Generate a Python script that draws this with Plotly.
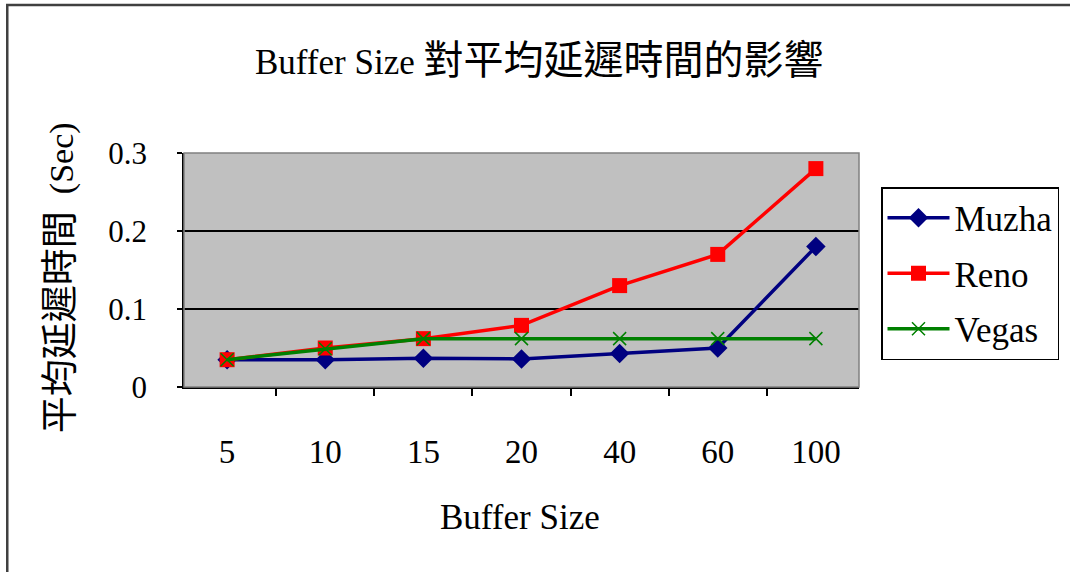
import plotly.graph_objects as go

# Buffer sizes (categories on the x axis)
buffer_sizes = ["5", "10", "15", "20", "40", "60", "100"]

# Average delay in seconds for each TCP variant
muzha = [0.035, 0.035, 0.037, 0.036, 0.043, 0.050, 0.180]
reno = [0.035, 0.050, 0.062, 0.079, 0.130, 0.170, 0.280]
vegas = [0.035, 0.049, 0.062, 0.062, 0.062, 0.062, 0.062]

y_ticks = [0, 0.1, 0.2, 0.3]
y_tick_text = ["0", "0.1", "0.2", "0.3"]

SERIF = "Liberation Serif, Times New Roman, serif"

fig = go.Figure()

fig.add_trace(go.Scatter(
    x=buffer_sizes, y=muzha, name="Muzha", mode="lines+markers",
    line=dict(color="#000080", width=3.5),
    marker=dict(symbol="diamond", size=15, color="#000080"),
    legendgroup="muzha",
))
fig.add_trace(go.Scatter(
    x=buffer_sizes, y=reno, name="Reno", mode="lines+markers",
    line=dict(color="#ff0000", width=3.5),
    marker=dict(symbol="square", size=15, color="#ff0000"),
    legendgroup="reno",
))
fig.add_trace(go.Scatter(
    x=buffer_sizes, y=vegas, name="Vegas", mode="lines+markers",
    line=dict(color="#008000", width=3.5),
    marker=dict(symbol="x-thin-open", size=13, color="#008000",
                line=dict(color="#008000", width=1.5)),
    legendgroup="vegas",
))

W, H = 1070, 572
L, R, T, B = 184, 210, 153, 185
pw, ph = W - L - R, H - T - B


def px_x(x):
    return (x - L) / pw


def px_y(y):
    return (H - B - y) / ph


shapes = [
    # outer chart frame (runs off the right and bottom edges)
    dict(type="rect", xref="paper", yref="paper",
         x0=px_x(7), x1=px_x(1085), y0=px_y(590), y1=px_y(5),
         line=dict(color="#404040", width=2.5), fillcolor="rgba(0,0,0,0)",
         layer="below"),
    # plot area frame
    dict(type="rect", xref="paper", yref="paper", x0=0, x1=1, y0=0, y1=1,
         line=dict(color="#808080", width=1.5), fillcolor="rgba(0,0,0,0)",
         layer="above"),
]

annotations = [
    dict(text=("<span style='font-family:Liberation Serif;font-size:35px'>Buffer Size </span>"
               "<span style='font-family:Noto Sans CJK TC;font-size:40px'>對平均延遲時間的影響</span>"),
         xref="paper", yref="paper", x=px_x(540), y=px_y(57),
         xanchor="center", yanchor="middle", showarrow=False,
         font=dict(color="black")),
    dict(text=("<span style='font-family:Noto Sans CJK TC;font-size:37px'>平均延遲時間</span>"
               "<span style='font-family:Liberation Serif;font-size:34px'>  (Sec)</span>"),
         xref="paper", yref="paper", x=px_x(57), y=px_y(278),
         xanchor="center", yanchor="middle", textangle=-90, showarrow=False,
         font=dict(color="black")),
    dict(text="Buffer Size", xref="paper", yref="paper",
         x=px_x(520), y=px_y(517), xanchor="center", yanchor="middle",
         showarrow=False, font=dict(family=SERIF, size=35, color="black")),
]

fig.update_layout(
    width=W, height=H,
    margin=dict(l=L, r=R, t=T, b=B, pad=0),
    paper_bgcolor="white",
    plot_bgcolor="#c0c0c0",
    showlegend=True,
    legend=dict(
        x=px_x(881), y=px_y(187), xanchor="left", yanchor="top",
        bordercolor="black", borderwidth=1.5, bgcolor="white",
        font=dict(family=SERIF, size=35, color="black"),
        traceorder="grouped", tracegroupgap=7,
        itemwidth=62,
    ),
    shapes=shapes,
    annotations=annotations,
    xaxis=dict(
        type="category",
        tickson="boundaries", ticks="outside", ticklen=7, tickwidth=1.5,
        tickcolor="black",
        showline=True, linecolor="black", linewidth=1.5,
        showgrid=False, zeroline=False,
        tickfont=dict(family=SERIF, size=33, color="black"),
        ticklabelstandoff=35,
    ),
    yaxis=dict(
        range=[0, 0.3], tickvals=y_ticks, ticktext=y_tick_text,
        ticks="outside", ticklen=5, tickwidth=1.5, tickcolor="black",
        showline=True, linecolor="black", linewidth=1.5,
        showgrid=True, gridcolor="black", gridwidth=1.5,
        zeroline=False,
        tickfont=dict(family=SERIF, size=31, color="black"),
        ticklabelstandoff=24,
    ),
)

fig.write_html("out.html")
